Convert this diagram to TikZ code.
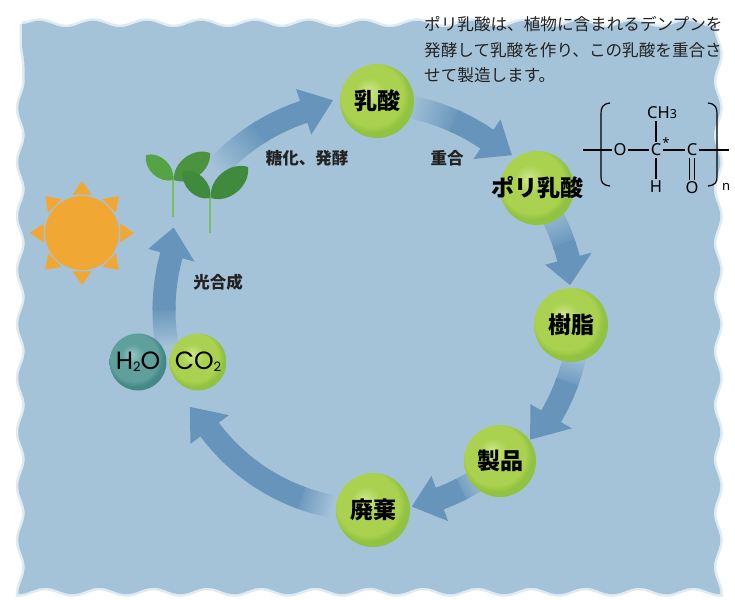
\documentclass[tikz,border=0pt]{standalone}
\usepackage{fontspec}
\newfontfamily\cjk{Noto Sans CJK JP}
\newfontfamily\chemfont{Noto Sans}
\newfontfamily\formulafont{Poppins}
\usetikzlibrary{decorations.pathmorphing,calc}

\definecolor{bgblue}{HTML}{A4C3D9}
\definecolor{arrowblue}{HTML}{6694BA}
\definecolor{ballhi}{HTML}{D0E78C}
\definecolor{ballmid}{HTML}{AAD250}
\definecolor{ballrim}{HTML}{92C241}
\definecolor{tealhi}{HTML}{97C7C2}
\definecolor{tealmid}{HTML}{5FA09D}
\definecolor{tealrim}{HTML}{468885}
\definecolor{sunorange}{HTML}{F0A733}
\definecolor{leaflight}{HTML}{54A345}
\definecolor{leafdark}{HTML}{3F8A3D}
\definecolor{stemgreen}{HTML}{7BBF5F}
\definecolor{inktext}{HTML}{222222}

% glossy spheres
\pgfdeclareradialshading{greenball}{\pgfpoint{-6bp}{7bp}}{color(0bp)=(ballhi); color(10bp)=(ballmid); color(21bp)=(ballmid); color(25bp)=(ballrim); color(50bp)=(ballrim)}
\pgfdeclareradialshading{tealball}{\pgfpoint{-6bp}{7bp}}{color(0bp)=(tealhi); color(10bp)=(tealmid); color(21bp)=(tealmid); color(25bp)=(tealrim); color(50bp)=(tealrim)}

% curved band arrow around the cycle centre:
% #1 tail angle, #2 end of fade, #3 head base angle, #4 tip angle, #5 radius, #6 tip radius
\newcommand\cyclearrow[6]{%
  \pgfmathsetmacro\arwIn{#5-11.5}%
  \pgfmathsetmacro\arwOut{#5+11.5}%
  \pgfmathsetmacro\arwHeadIn{#5-24}%
  \pgfmathsetmacro\arwHeadOut{#5+24}%
  \pgfmathsetmacro\arwJoin{#2-1}%
  \pgfmathsetmacro\arwShade{(#1+#2)/2-180}%
  \shade[bottom color=bgblue, top color=arrowblue, shading angle=\arwShade]
    (#1:\arwOut) arc[start angle=#1, end angle=\arwJoin, radius=\arwOut]
    -- (\arwJoin:\arwIn) arc[start angle=\arwJoin, end angle=#1, radius=\arwIn] -- cycle;
  \fill[arrowblue]
    (#2:\arwOut) arc[start angle=#2, end angle=#3, radius=\arwOut]
    -- (#3:\arwHeadOut) -- (#4:#6) -- (#3:\arwHeadIn) -- (#3:\arwIn)
    arc[start angle=#3, end angle=#2, radius=\arwIn] -- cycle;
}

\begin{document}
\begin{tikzpicture}[x=1pt,y=1pt,
  ball/.style={circle, minimum size=74, inner sep=0, shading=greenball,
    font=\cjk\bfseries\fontsize{23}{23}\selectfont, text=black},
  molball/.style={circle, minimum size=57, inner sep=0,
    font=\formulafont\fontsize{25}{25}\selectfont, text=black},
  steplabel/.style={font=\cjk\bfseries\fontsize{16.5}{16.5}\selectfont, text=inktext},
  desc/.style={anchor=west, inner sep=0, font=\cjk\fontsize{16.6}{16.6}\selectfont, text=inktext},
  atom/.style={inner sep=1.5, font=\chemfont\fontsize{16.5}{16.5}\selectfont, text=black},
  bond/.style={line width=1.2, black},
  leaf/.style={bend left=58},
  backdrop/.style={decorate, decoration={snake, segment length=54, amplitude=3.2}}
]
\useasboundingbox (0,0) rectangle (735,-599);

% wavy sky-blue backdrop with a soft rim
\path[fill=bgblue, backdrop]
  (22,-24) -- (711,-24) -- (711,-591) -- (22,-591) -- cycle;
\path[draw=bgblue, line width=5, draw opacity=0.35, backdrop]
  (22,-24) -- (711,-24) -- (711,-591) -- (22,-591) -- cycle;

% description
\node[desc] (desc1) at (424,-24) {ポリ乳酸は、植物に含まれるデンプンを};
\node[desc] (desc2) at (424,-50) {発酵して乳酸を作り、この乳酸を重合さ};
\node[desc] (desc3) at (424,-75) {せて製造します。};

% the cycle arrows
\begin{scope}[shift={(370,-310)}]
  \cyclearrow{138}{122}{108.5}{100}{209}{213}
  \cyclearrow{80}{66}{55.6}{47.5}{207}{210}
  \cyclearrow{30}{19}{14.5}{7.1}{205}{201.6}
  \cyclearrow{-12}{-20}{-30.4}{-39}{210}{206}
  \cyclearrow{-57}{-63}{-69.7}{-78}{201}{201}
  \cyclearrow{-101}{-110}{-143.3}{-151.7}{200}{204.5}
  \cyclearrow{190}{180}{164.6}{157.2}{206}{213}
\end{scope}

% sun
\begin{scope}[shift={(82,-233)}]
  \fill[sunorange] (0,0) circle[radius=37];
  \foreach \a in {0,45,...,315}
    \fill[sunorange] (\a:52) -- (\a+14:39.5) -- (\a-14:39.5) -- cycle;
\end{scope}

% seedlings
\draw[stemgreen, line width=2.5] (173,-176) -- (173,-217);
\fill[leaflight] (173,-180) to[leaf] (146,-155) to[leaf] (173,-180);
\fill[leaflight!90!black] (174,-180) to[leaf] (210,-153) to[leaf] (174,-180);
\draw[stemgreen, line width=2.5] (210,-194) -- (210,-233);
\fill[leafdark] (210,-198) to[leaf] (183,-171) to[leaf] (210,-198);
\fill[leafdark] (211,-198) to[leaf] (248,-167) to[leaf] (211,-198);

% step labels
\node[steplabel] (lblferment) at (307,-158) {糖化、発酵};
\node[steplabel] (lblpoly) at (447,-158) {重合};
\node[steplabel] (lblphoto) at (218,-282) {光合成};

% stages
\node[ball] (lactic) at (377,-101) {乳酸};
\node[ball, label={[font=\cjk\bfseries\fontsize{23}{23}\selectfont, text=black]center:ポリ乳酸}] (pla) at (537,-188) {};
\node[ball] (resin) at (571,-325) {樹脂};
\node[ball, minimum size=72] (product) at (500,-461) {製品};
\node[ball] (waste) at (373,-510) {廃棄};
\node[molball, shading=tealball] (water) at (138,-362) {H{\fontsize{13}{13}\selectfont\raisebox{-2pt}{2}}O};
\node[molball, shading=greenball] (co2) at (198,-362) {CO{\fontsize{13}{13}\selectfont\raisebox{-2pt}{2}}};

% repeating unit of poly(lactic acid)
\coordinate (bondL) at (583,-150);
\coordinate (bondR) at (729,-150);
\node[atom] (oxy) at (620,-150) {O};
\node[atom] (cstar) at (656,-150) {C};
\node[atom] (ccarb) at (692,-150) {C};
\node[atom] (methyl) at (662,-113) {CH{\fontsize{12.5}{12.5}\selectfont 3}};
\node[atom] (hyd) at (656,-187) {H};
\node[atom] (carbO) at (692,-188) {O};
\node[inner sep=0, font=\chemfont\bfseries\fontsize{13}{13}\selectfont] (chiral) at (666,-143) {*};
\node[inner sep=0, font=\chemfont\fontsize{13}{13}\selectfont, anchor=west] (repn) at (722,-187) {n};
\draw[bond] (bondL) -- (oxy.west);
\draw[bond] (oxy.east) -- (cstar.west);
\draw[bond] (cstar.east) -- (ccarb.west);
\draw[bond] (ccarb.east) -- (bondR);
\draw[bond] (cstar.north) -- (cstar.north |- methyl.south);
\draw[bond] (cstar.south) -- (cstar.south |- hyd.north);
\draw[bond] ([xshift=-2.3]ccarb.south) -- ([xshift=-2.3]ccarb.south |- carbO.north);
\draw[bond] ([xshift=2.3]ccarb.south) -- ([xshift=2.3]ccarb.south |- carbO.north);
% brackets
\draw[bond] (610,-103) .. controls (602,-104) and (601,-108) .. (601,-114)
  -- (601,-176) .. controls (601,-182) and (602,-185) .. (610,-186);
\draw[bond] (708,-103) .. controls (716,-104) and (717,-108) .. (717,-114)
  -- (717,-176) .. controls (717,-182) and (716,-185) .. (708,-186);
\end{tikzpicture}
\end{document}
